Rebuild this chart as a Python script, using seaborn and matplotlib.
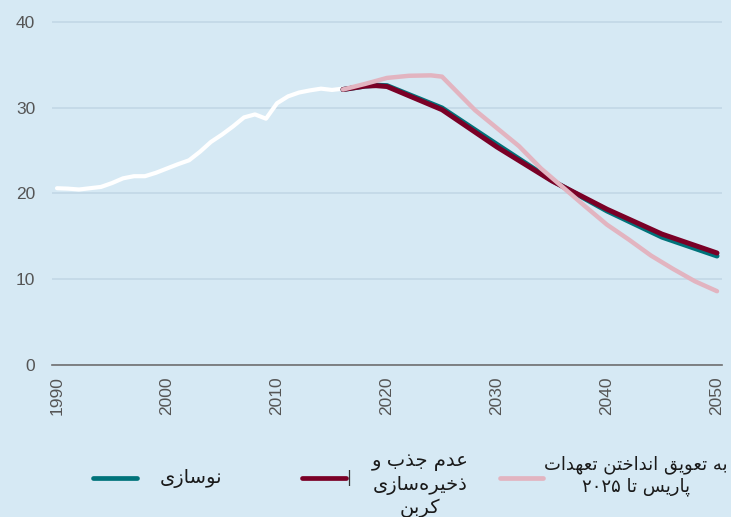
import re
import numpy as np
import pandas as pd
import matplotlib
matplotlib.use("Agg")
import matplotlib.pyplot as plt
from matplotlib.lines import Line2D
import seaborn as sns

# ---------------- data ----------------
hist_years = list(range(1990, 2017))
hist_values = [20.6, 20.55, 20.45, 20.6, 20.75, 21.2, 21.75, 22.0, 22.0, 22.4,
               22.9, 23.4, 23.85, 24.85, 26.0, 26.85, 27.8, 28.85, 29.2, 28.7,
               30.5, 31.3, 31.75, 32.0, 32.2, 32.05, 32.2]

scen_years = [2016, 2018, 2019, 2020, 2025, 2030, 2035, 2040, 2045, 2050]
renov_values = [32.1, 32.5, 32.6, 32.55, 29.95, 25.7, 21.5, 17.95, 14.9, 12.7]
noccs_values = [32.1, 32.5, 32.55, 32.45, 29.75, 25.4, 21.45, 18.15, 15.25, 13.05]

paris_years = [2016, 2018, 2020, 2022, 2024, 2025, 2026, 2027, 2028, 2030,
               2032, 2034, 2036, 2038, 2040, 2042, 2044, 2046, 2048, 2050]
paris_values = [32.1, 32.75, 33.45, 33.7, 33.75, 33.6, 32.3, 31.0, 29.7, 27.6,
                25.5, 22.9, 20.7, 18.5, 16.35, 14.6, 12.75, 11.2, 9.75, 8.6]

x_ticks = [1990, 2000, 2010, 2020, 2030, 2040, 2050]
y_ticks = [0, 10, 20, 30, 40]

label_renov = "نوسازی"
label_noccs = "عدم جذب و\nذخیره‌سازی\nکربن"
label_paris = "به تعویق انداختن تعهدات\nپاریس تا ۲۰۲۵"

# ---------------- simple Arabic-script shaping ----------------
FORMS = {
    'ا': (0xFE8D, 0xFE8E, None, None),
    'ب': (0xFE8F, 0xFE90, 0xFE91, 0xFE92),
    'پ': (0xFB56, 0xFB57, 0xFB58, 0xFB59),
    'ت': (0xFE95, 0xFE96, 0xFE97, 0xFE98),
    'ج': (0xFE9D, 0xFE9E, 0xFE9F, 0xFEA0),
    'خ': (0xFEA5, 0xFEA6, 0xFEA7, 0xFEA8),
    'د': (0xFEA9, 0xFEAA, None, None),
    'ذ': (0xFEAB, 0xFEAC, None, None),
    'ر': (0xFEAD, 0xFEAE, None, None),
    'ز': (0xFEAF, 0xFEB0, None, None),
    'س': (0xFEB1, 0xFEB2, 0xFEB3, 0xFEB4),
    'ع': (0xFEC9, 0xFECA, 0xFECB, 0xFECC),
    'ق': (0xFED5, 0xFED6, 0xFED7, 0xFED8),
    'ک': (0xFB8E, 0xFB8F, 0xFB90, 0xFB91),
    'م': (0xFEE1, 0xFEE2, 0xFEE3, 0xFEE4),
    'ن': (0xFEE5, 0xFEE6, 0xFEE7, 0xFEE8),
    'و': (0xFEED, 0xFEEE, None, None),
    'ه': (0xFEE9, 0xFEEA, 0xFEEB, 0xFEEC),
    'ی': (0xFBFC, 0xFBFD, 0xFBFE, 0xFBFF),
}


def shape_line(s):
    out = []
    n = len(s)
    for i, ch in enumerate(s):
        if ch not in FORMS:
            if ch != '\u200c':
                out.append(ch)
            continue
        iso, fin, ini, med = FORMS[ch]
        prev = s[i - 1] if i > 0 else ''
        nxt = s[i + 1] if i + 1 < n else ''
        pj = prev in FORMS and FORMS[prev][2] is not None
        nj = nxt in FORMS and ini is not None
        if pj and nj:
            c = med
        elif pj:
            c = fin
        elif nj:
            c = ini
        else:
            c = iso
        out.append(chr(c))
    vis = ''.join(out)[::-1]
    vis = re.sub(r'[0-9\u06F0-\u06F9]+', lambda m: m.group(0)[::-1], vis)
    return vis


def shape(s):
    return '\n'.join(shape_line(l) for l in s.split('\n'))


# ---------------- style ----------------
BG = '#d6e9f4'
GRID = '#c2d8e6'
TEAL = '#00737a'
RED = '#7a0026'
PINK = '#e2b4c0'

sns.set_theme(style='whitegrid')
plt.rcParams['font.family'] = ['Liberation Sans', 'DejaVu Sans']

fig = plt.figure(figsize=(7.31, 5.17), dpi=100, facecolor=BG)
W, H = 731, 517
ax = fig.add_axes([52 / W, 1 - 365 / H, 670 / W, 345 / H])
ax.set_facecolor(BG)

hist_df = pd.DataFrame({'year': hist_years, 'value': hist_values})
renov_df = pd.DataFrame({'year': scen_years, 'value': renov_values})
noccs_df = pd.DataFrame({'year': scen_years, 'value': noccs_values})
paris_df = pd.DataFrame({'year': paris_years, 'value': paris_values})

sns.lineplot(data=hist_df, x='year', y='value', ax=ax, color='white',
             linewidth=3.0, zorder=3)
sns.lineplot(data=renov_df, x='year', y='value', ax=ax, color=TEAL,
             linewidth=3.6, zorder=4)
sns.lineplot(data=noccs_df, x='year', y='value', ax=ax, color=RED,
             linewidth=3.6, zorder=5)
sns.lineplot(data=paris_df, x='year', y='value', ax=ax, color=PINK,
             linewidth=3.2, zorder=6)

ax.set_xlim(1989.545, 2050.455)
ax.set_ylim(0, 40.2)
ax.set_xticks(x_ticks)
ax.set_yticks(y_ticks)
ax.set_xticklabels([str(v) for v in x_ticks], rotation=90)
ax.set_yticklabels([str(v) for v in y_ticks])
ax.set_xlabel('')
ax.set_ylabel('')
ax.tick_params(axis='both', length=0, labelsize=12.5, labelcolor='#555555')
ax.tick_params(axis='x', pad=8)
ax.tick_params(axis='y', pad=12)
ax.grid(axis='y', color=GRID, linewidth=1.2)
ax.grid(axis='x', visible=False)
for side in ['top', 'right', 'left']:
    ax.spines[side].set_visible(False)
ax.spines['bottom'].set_color('#6f6f6f')
ax.spines['bottom'].set_linewidth(1.2)

# ---------------- legend (manual) ----------------
def fx(px):
    return px / W


def fy(py):
    return 1 - py / H


hy = fy(478)
for x0, x1, c in [(93, 137, TEAL), (302, 346, RED), (500, 543, PINK)]:
    fig.add_artist(Line2D([fx(x0), fx(x1)], [hy, hy], color=c, linewidth=3.4,
                          solid_capstyle='round', transform=fig.transFigure))

tkw = dict(family=['DejaVu Sans'], fontsize=14, color='#1a1a1a',
           ha='center', va='center', multialignment='center', linespacing=1.25)
fig.text(fx(191), fy(478), shape(label_renov), **tkw)
fig.text(fx(420), fy(485), shape(label_noccs), **tkw)
tkw_p = dict(tkw, fontsize=13)
fig.text(fx(636), fy(476), shape(label_paris), **tkw_p)
fig.text(fx(349), fy(478), '|', family=['DejaVu Sans'], fontsize=11,
         color='#333333', ha='center', va='center')

fig.savefig('out.png', dpi=100, facecolor=BG)
